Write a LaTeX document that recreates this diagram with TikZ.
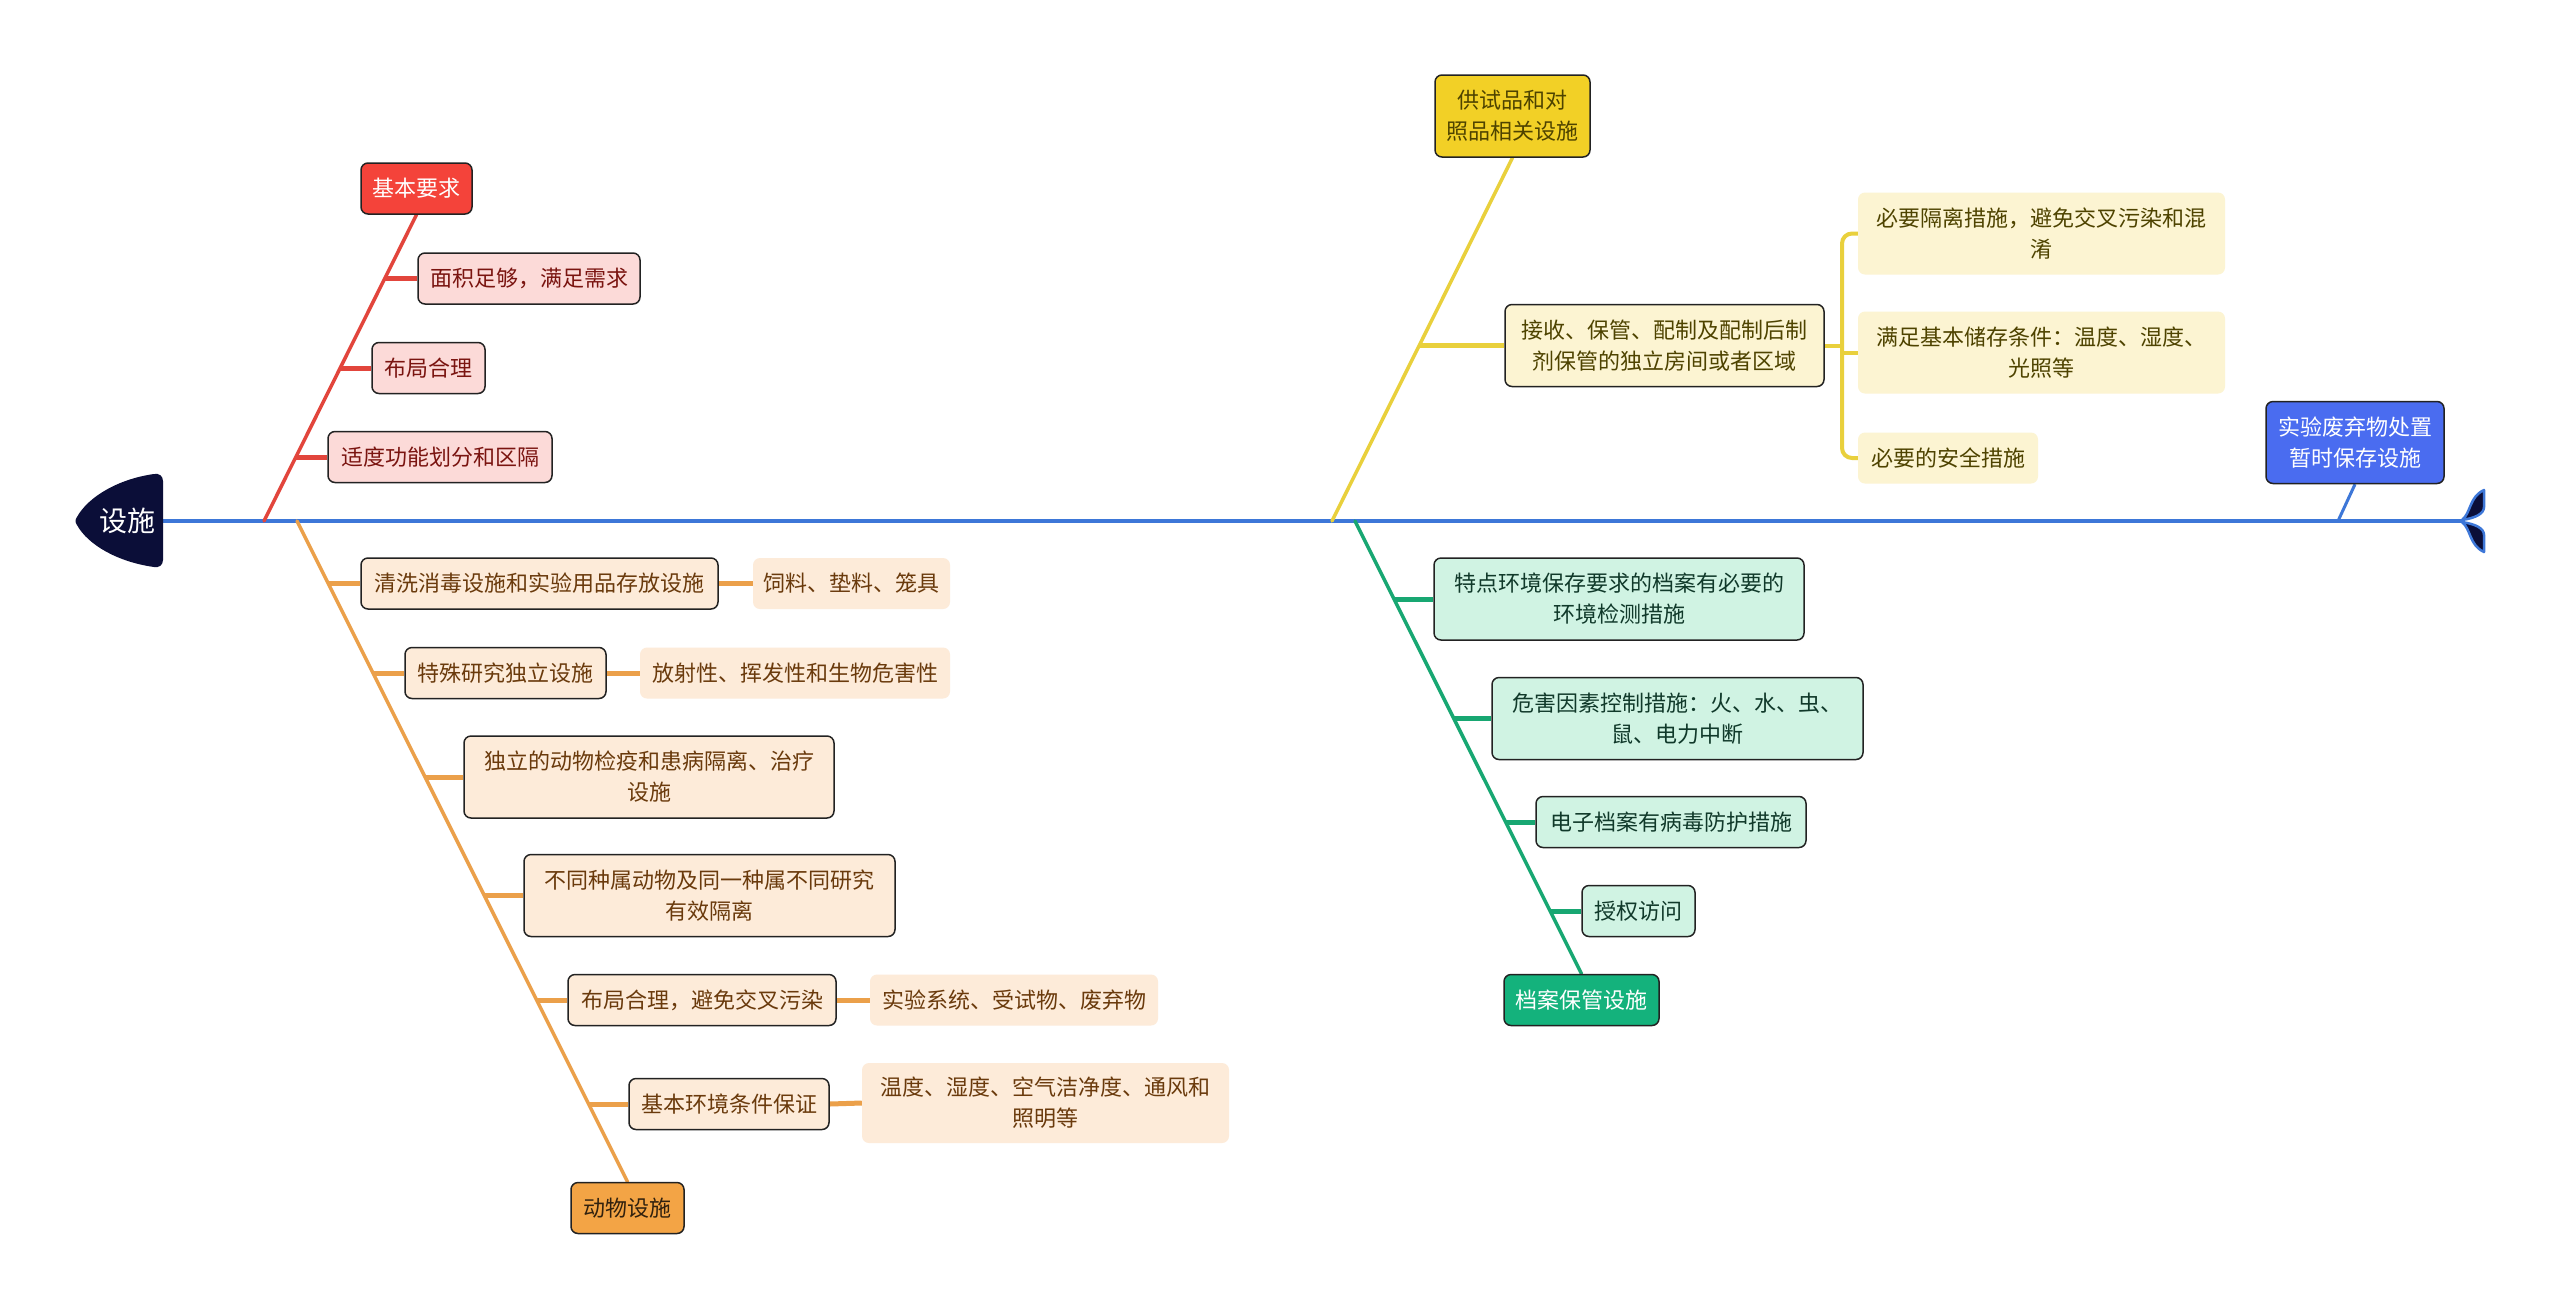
\documentclass[tikz,border=0pt]{standalone}
\usepackage{fontspec}
\setmainfont{Noto Sans CJK SC}
\usetikzlibrary{backgrounds,calc}
\definecolor{navy}{HTML}{0B0E38}
\definecolor{spinec}{HTML}{3D77D8}
\definecolor{rline}{HTML}{E2453C}
\definecolor{rmain}{HTML}{F4433A}
\definecolor{rfill}{HTML}{FCDAD8}
\definecolor{rtext}{HTML}{7A1410}
\definecolor{oline}{HTML}{EBA04A}
\definecolor{omain}{HTML}{F3A445}
\definecolor{ofill}{HTML}{FDEBD9}
\definecolor{otext}{HTML}{6A3A0C}
\definecolor{yline}{HTML}{E9D03C}
\definecolor{ymain}{HTML}{F2D026}
\definecolor{yfill}{HTML}{FCF4D2}
\definecolor{ytext}{HTML}{4E4300}
\definecolor{gline}{HTML}{18A772}
\definecolor{gmain}{HTML}{14B27C}
\definecolor{gfill}{HTML}{D0F3E3}
\definecolor{gtext}{HTML}{10392A}
\definecolor{bmain}{HTML}{4A6CF0}
\definecolor{edgec}{HTML}{222222}
\begin{document}
\begin{tikzpicture}[x=1pt,y=-1pt,
  box/.style={rounded corners=7pt, line width=1.5pt, draw=edgec, align=center, inner sep=0pt, minimum height=51pt, font=\fontsize{22}{31}\selectfont},
  leafbox/.style={rounded corners=7pt, align=center, inner sep=0pt, minimum height=51pt, font=\fontsize{22}{31}\selectfont},
  tall/.style={minimum height=82pt},
  rchild/.style={box, fill=rfill, text=rtext},
  ochild/.style={box, fill=ofill, text=otext},
  oleaf/.style={leafbox, fill=ofill, text=otext},
  ychild/.style={box, fill=yfill, text=ytext},
  yleaf/.style={leafbox, fill=yfill, text=ytext},
  gchild/.style={box, fill=gfill, text=gtext},
  mainline/.style={line width=3.5pt, line cap=round},
  stub/.style={line width=5pt},
  tailleaf/.style={fill=navy, draw=spinec, line width=2.5pt, line join=round},
]
\useasboundingbox (0,0) rectangle (2560,1310);

% head
\fill[navy] (163,481) -- (163,560) .. controls (163,565) and (159,568) .. (154,567)
  .. controls (118,562) and (88,545) .. (77,525) .. controls (75,522) and (75,520) .. (77,517)
  .. controls (88,497) and (118,479) .. (154,474) .. controls (159,473) and (163,476) .. (163,481) -- cycle;
\node[text=white, font=\fontsize{28}{34}\selectfont] (root) at (127,521) {设施};
\coordinate (spineL) at (163,521);
\coordinate (spineR) at (2462,521);

% tail
\filldraw[tailleaf] (2462,520) .. controls (2471,513) and (2469,497) .. (2484,490) -- (2484,507) .. controls (2484,514) and (2475,518) .. cycle;
\filldraw[tailleaf] (2462,522) .. controls (2471,529) and (2469,545) .. (2484,552) -- (2484,535) .. controls (2484,528) and (2475,524) .. cycle;

% red branch
\node[box, fill=rmain, text=white, minimum width=111pt] (r0) at (416.5,188.5) {基本要求};
\node[rchild, minimum width=222pt] (r1) at (529,278.5) {面积足够，满足需求};
\node[rchild, minimum width=113pt] (r2) at (428.5,368) {布局合理};
\node[rchild, minimum width=224pt] (r3) at (440,457) {适度功能划分和区隔};
\coordinate (rs) at (264,521);
\coordinate (r1j) at (384.5,278.5);
\coordinate (r2j) at (340,368);
\coordinate (r3j) at (295.8,457);

% orange branch
\node[box, fill=omain, text=black!80!omain, minimum width=113pt] (o0) at (627.5,1208) {动物设施};
\node[ochild, minimum width=357pt] (o1) at (539.5,583.5) {清洗消毒设施和实验用品存放设施};
\node[oleaf, minimum width=197pt] (o1l) at (851.5,583.5) {饲料、垫料、笼具};
\node[ochild, minimum width=201pt] (o2) at (505.5,673) {特殊研究独立设施};
\node[oleaf, minimum width=310pt] (o2l) at (795,673) {放射性、挥发性和生物危害性};
\node[ochild, tall, minimum width=370pt] (o3) at (649,777) {独立的动物检疫和患病隔离、治疗\\设施};
\node[ochild, tall, minimum width=371pt] (o4) at (709.5,895.5) {不同种属动物及同一种属不同研究\\有效隔离};
\node[ochild, minimum width=268pt] (o5) at (702,1000) {布局合理，避免交叉污染};
\node[oleaf, minimum width=288pt] (o5l) at (1014,1000) {实验系统、受试物、废弃物};
\node[ochild, minimum width=200pt] (o6) at (729,1104) {基本环境条件保证};
\node[oleaf, tall, minimum width=367pt, minimum height=80pt] (o6l) at (1045.5,1103) {温度、湿度、空气洁净度、通风和\\照明等};
\coordinate (os) at (297,521);
\coordinate (o1j) at (328,583.5);
\coordinate (o2j) at (373,673);
\coordinate (o3j) at (425,777);
\coordinate (o4j) at (484,895.5);
\coordinate (o5j) at (536.5,1000);
\coordinate (o6j) at (588.5,1104);

% yellow branch
\node[box, tall, fill=ymain, text=ytext, minimum width=155pt] (y0) at (1512.5,116) {供试品和对\\照品相关设施};
\node[ychild, tall, minimum width=319pt] (y1) at (1664.5,345.5) {接收、保管、配制及配制后制\\剂保管的独立房间或者区域};
\node[yleaf, tall, minimum width=367pt] (y1a) at (2041.5,233.5) {必要隔离措施，避免交叉污染和混\\淆};
\node[yleaf, tall, minimum width=367pt] (y1b) at (2041.5,352.5) {满足基本储存条件：温度、湿度、\\光照等};
\node[yleaf, minimum width=180pt] (y1c) at (1948,458) {必要的安全措施};
\coordinate (ys) at (1332,521);
\coordinate (y1j) at (1419,345.5);
\coordinate (yb) at (1842,345.5);

% green branch
\node[box, fill=gmain, text=white, minimum width=155pt] (g0) at (1581.5,1000) {档案保管设施};
\node[gchild, tall, minimum width=370pt] (g1) at (1619,599) {特点环境保存要求的档案有必要的\\环境检测措施};
\node[gchild, tall, minimum width=371pt] (g2) at (1677.5,718.5) {危害因素控制措施：火、水、虫、\\鼠、电力中断};
\node[gchild, minimum width=270pt] (g3) at (1671,822) {电子档案有病毒防护措施};
\node[gchild, minimum width=113pt] (g4) at (1638.5,911) {授权访问};
\coordinate (gs) at (1355,521);
\coordinate (g1j) at (1394,599);
\coordinate (g2j) at (1453.5,718.5);
\coordinate (g3j) at (1505,822);
\coordinate (g4j) at (1549.6,911);

% blue branch
\node[box, tall, fill=bmain, text=white, minimum width=178pt] (b0) at (2355,442.5) {实验废弃物处置\\暂时保存设施};
\coordinate (bs) at (2338,521);

\begin{pgfonlayer}{background}
\fill[white] (0,0) rectangle (2560,1310);
\draw[spinec, line width=3.5pt] (spineL) -- (spineR);
% red
\draw[rline, mainline] (rs) -- (r0.south);
\draw[rline, stub] (r1j) -- (r1.west);
\draw[rline, stub] (r2j) -- (r2.west);
\draw[rline, stub] (r3j) -- (r3.west);
% orange
\draw[oline, mainline] (os) -- (o0.north);
\foreach \i in {1,...,6} {\draw[oline, stub] (o\i j) -- (o\i.west);}
\draw[oline, stub] (o1.east) -- (o1l.west);
\draw[oline, stub] (o2.east) -- (o2l.west);
\draw[oline, stub] (o5.east) -- (o5l.west);
\draw[oline, stub] (o6.east) -- (o6l.west);
% yellow
\draw[yline, mainline] (ys) -- (y0.south);
\draw[yline, stub] (y1j) -- (y1.west);
\draw[yline, line width=4pt] (y1.east) -- (yb);
\draw[yline, line width=4pt, rounded corners=10pt] (y1a.west) -- (y1a.west -| yb) -- (y1c.west -| yb) -- (y1c.west);
\draw[yline, line width=4pt] (y1b.west -| yb) -- (y1b.west);
% green
\draw[gline, mainline] (gs) -- (g0.north);
\foreach \i in {1,...,4} {\draw[gline, stub] (g\i j) -- (g\i.west);}
% blue
\draw[spinec, line width=3pt] (bs) -- (b0.south);
\end{pgfonlayer}
\end{tikzpicture}
\end{document}
